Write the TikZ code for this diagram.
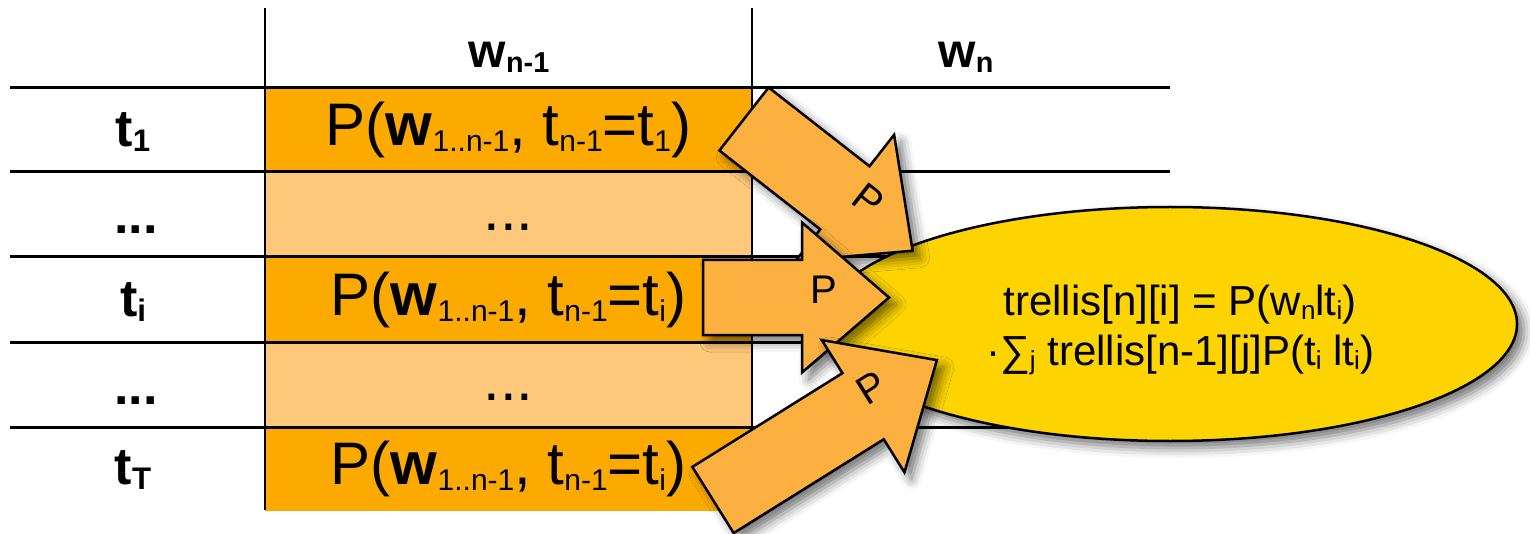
\documentclass[tikz,border=0pt]{standalone}
\usepackage{fontspec}
\setmainfont{Liberation Sans}
\usetikzlibrary{shapes.geometric,shadows.blur}
\definecolor{celldark}{HTML}{FDAA00}
\definecolor{celllight}{HTML}{FEC87A}
\definecolor{arrowfill}{HTML}{FBB040}
\definecolor{ellfill}{HTML}{FDD400}
\newcommand{\lo}[2][0.5]{\raisebox{-0.1em}{\scalebox{#1}{#2}}}

\begin{document}
\begin{tikzpicture}[x=1pt,y=-1pt,
    tline/.style={line width=3pt},
    cell/.style={minimum width=487, minimum height=84, inner sep=0pt,
      font=\fontsize{60}{72}\selectfont},
    rowlab/.style={font=\fontsize{52}{60}\selectfont\bfseries},
    softshadow/.style={blur shadow={shadow xshift=7pt, shadow yshift=-7pt,
        shadow blur radius=10pt, shadow opacity=55}},
    parrow/.style={draw, fill=arrowfill, line width=2.5pt, line join=miter, softshadow},
    plabel/.style={font=\fontsize{40}{48}\selectfont}]
  \useasboundingbox (0,0) rectangle (1530,534);
  % cells of column w_{n-1}
  \node[cell, fill=celldark] (c1) at (508.5,130) {P(\textbf{w}\lo{1..n-1}, t\lo{n-1}=t\lo{1})};
  \node[cell, fill=celllight] (c2) at (508.5,214.5) {\vphantom{P(}...};
  \node[cell, fill=celldark] (c3) at (508.5,299.5) {P(\textbf{w}\lo{1..n-1}, t\lo{n-1}=t\lo{i})};
  \node[cell, fill=celllight] (c4) at (508.5,384.5) {\vphantom{P(}...};
  \node[cell, fill=celldark] (c5) at (508.5,468.5) {P(\textbf{w}\lo{1..n-1}, t\lo{n-1}=t\lo{i})};
  % grid
  \foreach \y in {88,172,257,342,427}
    \draw[tline] (10,\y) -- (1170,\y);
  \draw[line width=2.5pt] (265,8) -- (265,510);
  \draw[line width=2.5pt] (752,8) -- (752,510);
  % headers and row labels
  \node[font=\fontsize{48}{56}\selectfont\bfseries] (hprev) at (509,57) {w\lo[0.6]{n-1}};
  \node[font=\fontsize{48}{56}\selectfont\bfseries] (hcur) at (966,57) {w\lo[0.6]{n}};
  \node[rowlab] (r1) at (133,132) {t\lo[0.6]{1}};
  \node[rowlab] (r2) at (136,230) {...};
  \node[rowlab] (r3) at (133,302) {t\lo[0.6]{i}};
  \node[rowlab] (r4) at (136,401) {...};
  \node[rowlab] (r5) at (133,470) {t\lo[0.6]{T}};
  % trellis update
  \node[ellipse, draw, fill=ellfill, line width=2.5pt, minimum width=694,
    minimum height=234, align=center, font=\fontsize{42}{50}\selectfont,
    softshadow] (trel) at (1170,324) {};
  \node[align=center, font=\fontsize{42}{50}\selectfont] (upd) at (1180,330)
    {trellis[n][i] = P(w\lo[0.62]{n}lt\lo[0.62]{i})\\
     ·∑\lo[0.62]{j} trellis[n-1][j]P(t\lo[0.62]{i} lt\lo[0.62]{i})};
  % transition arrows
  \begin{scope}[shift={(744,119)},rotate=-38]
    \draw[parrow] (0,-40) -- (128,-40) -- (128,-80) -- (214,0) -- (128,80) -- (128,40) -- (0,40) -- cycle;
    \node[plabel,rotate=-38] (p1) at (148,-13) {P};
  \end{scope}
  \begin{scope}[shift={(703,297.5)}]
    \draw[parrow] (0,-37.5) -- (99,-37.5) -- (99,-75) -- (186,0) -- (99,75) -- (99,37.5) -- (0,37.5) -- cycle;
    \node[plabel] (p2) at (121,-7.5) {P};
  \end{scope}
  \begin{scope}[shift={(713,500)},rotate=32]
    \draw[parrow] (0,-39) -- (177,-39) -- (177,-78) -- (264,0) -- (177,78) -- (177,39) -- (0,39) -- cycle;
    \node[plabel,rotate=32] (p3) at (194,-11) {P};
  \end{scope}
\end{tikzpicture}
\end{document}
